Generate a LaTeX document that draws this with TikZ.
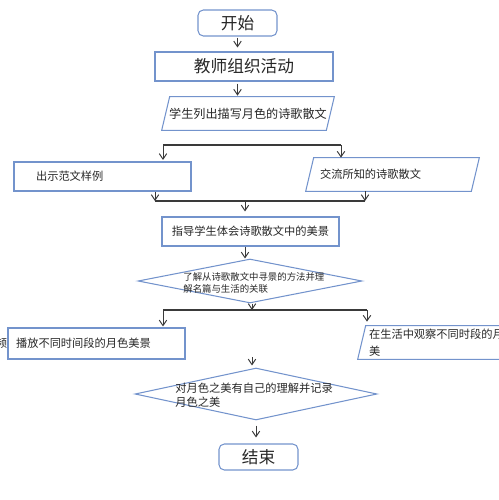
\documentclass[tikz,border=0pt]{standalone}
\usepackage{fontspec}
\newfontfamily\cjk{Noto Sans CJK SC}
\usepackage{tikz}
\usetikzlibrary{shapes.geometric, arrows.meta, positioning}
\definecolor{BoxBlue}{HTML}{7393CC}
\definecolor{LineGray}{HTML}{3A3A3A}

\begin{document}
\begin{tikzpicture}[x=0.02cm, y=-0.02cm, >={Straight Barb[length=1.1mm,width=1.5mm]},
    every node/.style={text=black!85},
    termbox/.style={draw=BoxBlue, line width=0.6pt, rounded corners=3pt, minimum width=1.58cm, minimum height=0.52cm, inner sep=0pt, font=\cjk\fontsize{9.5}{11}\selectfont},
    procbox/.style={draw=BoxBlue, line width=0.6pt, rectangle, minimum height=0.58cm, inner sep=0pt, font=\cjk\fontsize{6.4}{8}\selectfont},
    iobox/.style={rectangle, minimum width=3.3cm, minimum height=0.66cm, inner sep=0pt, font=\cjk\fontsize{6.4}{8}\selectfont},
    ioline/.style={draw=BoxBlue, line width=0.6pt},
    decbox/.style={draw=BoxBlue, line width=0.6pt, diamond, inner sep=0pt},
    dectext/.style={align=left, inner sep=0pt, anchor=west},
    flow/.style={->, draw=LineGray, line width=0.55pt},
    bar/.style={draw=LineGray, line width=0.75pt}]
    \useasboundingbox (0,0) rectangle (499,500);
    \clip (0,0) rectangle (499,500);

    % Start
    \node[termbox] (start) at (237.5,23) {开始};
    \node[procbox, minimum width=3.56cm, font=\cjk\fontsize{9.5}{11}\selectfont] (organize) at (244,66.5) {教师组织活动};
    \node[iobox, minimum width=3.28cm, font=\cjk\fontsize{6.9}{8}\selectfont] (listpoems) at (248,113.5) {学生列出描写月色的诗歌散文};

    % First split
    \coordinate (split-l) at (163,145);
    \coordinate (split-r) at (341,145);
    \node[procbox, minimum width=3.54cm, text width=2.66cm, align=left] (sample) at (102.5,176.5) {出示范文样例};
    \node[iobox, text width=2.9cm, align=left] (share) at (392.5,174.5) {交流所知的诗歌散文};

    % Merge
    \coordinate (merge-l) at (155,201);
    \coordinate (merge-r) at (365,201);
    \coordinate (merge-m) at (245,201);
    \node[procbox, minimum width=3.54cm] (guide) at (250.5,231.5) {指导学生体会诗歌散文中的美景};
    \node[decbox, minimum width=4.48cm, minimum height=0.88cm] (judge1) at (250,281) {};
    \node[dectext, font=\cjk\fontsize{5.35}{6.8}\selectfont] (judge1text) at (183,283) {了解从诗歌散文中寻景的方法并理\\解名篇与生活的关联};

    % Second split
    \coordinate (branch-l) at (163,310);
    \coordinate (branch-r) at (367,310);
    \coordinate (branch-m) at (252,310);
    \node[font=\cjk\fontsize{6.4}{8}\selectfont, inner sep=0pt] (cutoff) at (1.5,343) {频};
    \node[procbox, minimum width=3.54cm, minimum height=0.62cm, text width=3.22cm, align=left] (play) at (96.5,343.5) {播放不同时间段的月色美景};
    \node[iobox, text width=3.02cm, align=left, font=\cjk\fontsize{6.4}{9.7}\selectfont] (observe) at (444.5,342.5) {在生活中观察不同时段的月\\美};

    % Parallelogram outlines
    \foreach \n in {listpoems, share, observe} {
        \draw[ioline] ([xshift=0.08cm]\n.north west) -- ([xshift=0.08cm]\n.north east)
            -- ([xshift=-0.08cm]\n.south east) -- ([xshift=-0.08cm]\n.south west) -- cycle;
    }

    % Second decision and end
    \coordinate (gather) at (252,357);
    \node[decbox, minimum width=4.84cm, minimum height=1.04cm] (judge2) at (256,394) {};
    \node[dectext, font=\cjk\fontsize{6.4}{8}\selectfont] (judge2text) at (175,395) {对月色之美有自己的理解并记录\\月色之美};
    \node[termbox] (finish) at (258.5,457) {结束};

    % Connectors
    \draw[flow, shorten <=0.02cm, shorten >=0.08cm] (start.south) -- (start.south |- organize.north);
    \draw[flow, shorten <=0.04cm, shorten >=0.02cm] (start.south |- organize.south) -- (start.south |- listpoems.north);
    \draw[bar] (split-l) -- (split-r);
    \draw[flow, shorten >=0.03cm] (split-l) -- (split-l |- sample.north);
    \draw[flow] (split-r) -- (split-r |- share.north);
    \draw[flow] (merge-l |- sample.south) -- (merge-l);
    \draw[flow] (merge-r |- share.south) -- (merge-r);
    \draw[bar] (merge-l) -- (merge-r);
    \draw[flow, shorten >=0.1cm] (merge-m) -- (merge-m |- guide.north);
    \draw[flow] (merge-m |- guide.south) -- (merge-m |- judge1.north);
    \draw[flow] (branch-m |- judge1.south) -- (branch-m);
    \draw[bar] (branch-l) -- (branch-r);
    \draw[flow, shorten >=0.02cm] (branch-l) -- (branch-l |- play.north);
    \draw[flow, shorten >=0.08cm] (branch-r) -- (branch-r |- observe.north);
    \draw[flow, shorten >=0.04cm] (gather) -- (gather |- judge2.north);
    \draw[flow, shorten <=0.1cm, shorten >=0.12cm] (judge2.south) -- (judge2.south |- finish.north);
\end{tikzpicture}
\end{document}
